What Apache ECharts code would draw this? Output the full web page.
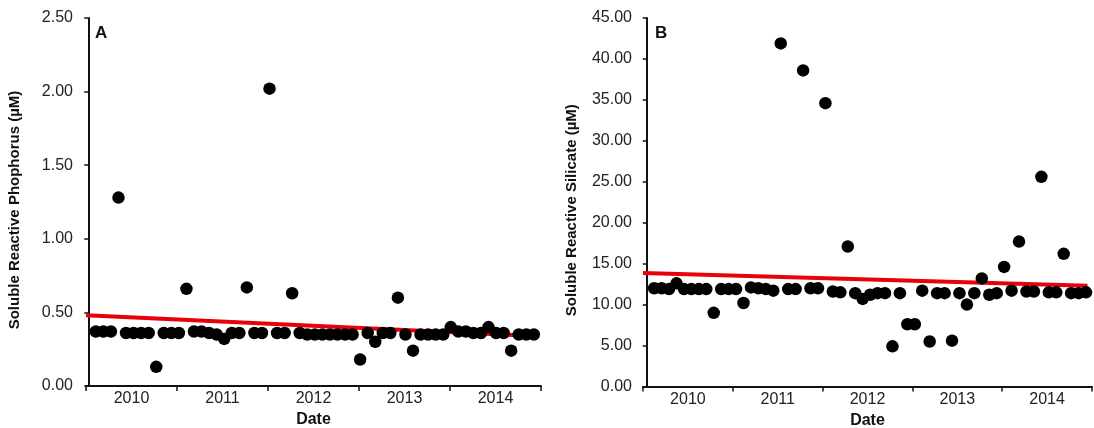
<!DOCTYPE html>
<html>
<head>
<meta charset="utf-8">
<script src="https://cdn.jsdelivr.net/npm/echarts@6/dist/echarts.min.js"></script>
<style>
html,body{margin:0;padding:0;background:#fff;}
#c{width:1094px;height:428px;}
</style>
</head>
<body>
<div id="c"></div>
<script>
// Year labels for the date axis
const years = ['2010', '2011', '2012', '2013', '2014'];
// Sampling month index (months since start of Jan 2010)
const sampleMonths = [1,2,3,4,5,6,7,8,9,10,11,12,13,14,15,16,17,18,19,20,21,22,23,24,25,26,27,28,29,30,31,32,33,34,35,36,37,38,39,40,41,42,43,44,45,46,47,48,49,50,51,52,53,54,55,56,57,58,59];
// Soluble reactive phosphorus (µM)
const phosphorus = [0.37,0.37,0.37,1.28,0.36,0.36,0.36,0.36,0.13,0.36,0.36,0.36,0.66,0.37,0.37,0.36,0.35,0.32,0.36,0.36,
  0.67,0.36,0.36,2.02,0.36,0.36,0.63,0.36,0.35,0.35,0.35,0.35,0.35,0.35,0.35,0.18,0.36,0.30,0.36,0.36,
  0.60,0.35,0.24,0.35,0.35,0.35,0.35,0.40,0.37,0.37,0.36,0.36,0.40,0.36,0.36,0.24,0.35,0.35,0.35];
// Soluble reactive silicate (µM)
const silicate = [12.0,12.0,11.9,12.6,11.9,11.9,11.9,11.9,9.0,11.9,11.9,11.9,10.2,12.1,12.0,11.9,11.7,41.9,11.9,11.9,
  38.6,12.0,12.0,34.6,11.6,11.5,17.1,11.4,10.7,11.2,11.4,11.4,4.9,11.4,7.6,7.6,11.7,5.5,11.4,11.4,
  5.6,11.4,10.0,11.4,13.2,11.2,11.4,14.6,11.7,17.7,11.6,11.6,25.6,11.5,11.5,16.2,11.4,11.4,11.5];
// Trend line end points (month, value)
const phosTrendMonths = [-0.3, 59];
const phosTrendValues = [0.48, 0.34];
const silTrendMonths = [-0.5, 59.2];
const silTrendValues = [13.85, 12.3];

const FONT = '"Liberation Sans", Arial, sans-serif';
const pair = (xs, ys) => xs.map((x, i) => [x, ys[i]]);

const chart = echarts.init(document.getElementById('c'), null, {renderer: 'canvas'});

function catAxis(gridIndex) {
  return {
    type: 'category', gridIndex: gridIndex, data: years, boundaryGap: true,
    name: 'Date', nameLocation: 'middle', nameGap: 25,
    nameTextStyle: {fontFamily: FONT, fontSize: 16, fontWeight: 'bold', color: '#111'},
    axisLine: {lineStyle: {color: '#111', width: 2}},
    axisTick: {show: true, length: 5, lineStyle: {color: '#111', width: 1.5}},
    axisLabel: {fontFamily: FONT, fontSize: 16, color: '#222', margin: 5},
    splitLine: {show: false}
  };
}
function valXAxis(gridIndex, min, max) {
  return {type: 'value', gridIndex: gridIndex, min: min, max: max, show: false, splitLine: {show: false}};
}
function yAxis(gridIndex, name, max, interval, margin) {
  return {
    type: 'value', gridIndex: gridIndex, min: 0, max: max, interval: interval,
    name: name, nameLocation: 'middle', nameGap: 64, nameRotate: 90,
    nameTextStyle: {fontFamily: FONT, fontSize: 15, fontWeight: 'bold', color: '#111', padding: [0, 16, 0, 0]},
    axisLine: {show: true, lineStyle: {color: '#111', width: 2}},
    axisTick: {show: true, length: 4, lineStyle: {color: '#111', width: 1.5}},
    axisLabel: {fontFamily: FONT, fontSize: 16, color: '#222', margin: margin,
      formatter: v => v.toFixed(2)},
    splitLine: {show: false}
  };
}

const option = {
  animation: false,
  backgroundColor: '#fff',
  title: [
    {text: 'A', left: 90, top: 20, textStyle: {fontFamily: FONT, fontSize: 17, fontWeight: 'bold', color: '#111'}},
    {text: 'B', left: 650, top: 20, textStyle: {fontFamily: FONT, fontSize: 17, fontWeight: 'bold', color: '#111'}}
  ],
  grid: [
    {left: 86, top: 18, width: 455, height: 368, outerBoundsMode: 'none', containLabel: false},
    {left: 643, top: 18, width: 449, height: 368.5, outerBoundsMode: 'none', containLabel: false}
  ],
  xAxis: [
    catAxis(0), valXAxis(0, -0.3, 59.95),
    catAxis(1), valXAxis(1, -0.5, 59.8)
  ],
  yAxis: [
    yAxis(0, 'Soluble Reactive Phophorus (µM)', 2.5, 0.5, 13),
    yAxis(1, 'Soluble Reactive Silicate (µM)', 45, 5, 11)
  ],
  series: [
    {type: 'scatter', xAxisIndex: 1, yAxisIndex: 0, data: pair(sampleMonths, phosphorus),
      symbol: 'circle', symbolSize: 12.5, itemStyle: {color: '#000', opacity: 1}, z: 3},
    {type: 'line', xAxisIndex: 1, yAxisIndex: 0, data: pair(phosTrendMonths, phosTrendValues),
      symbol: 'none', lineStyle: {color: '#e8000b', width: 4}, z: 2},
    {type: 'scatter', xAxisIndex: 3, yAxisIndex: 1, data: pair(sampleMonths, silicate),
      symbol: 'circle', symbolSize: 12.5, itemStyle: {color: '#000', opacity: 1}, z: 3},
    {type: 'line', xAxisIndex: 3, yAxisIndex: 1, data: pair(silTrendMonths, silTrendValues),
      symbol: 'none', lineStyle: {color: '#e8000b', width: 4}, z: 2}
  ]
};
chart.setOption(option);
</script>
</body>
</html>
